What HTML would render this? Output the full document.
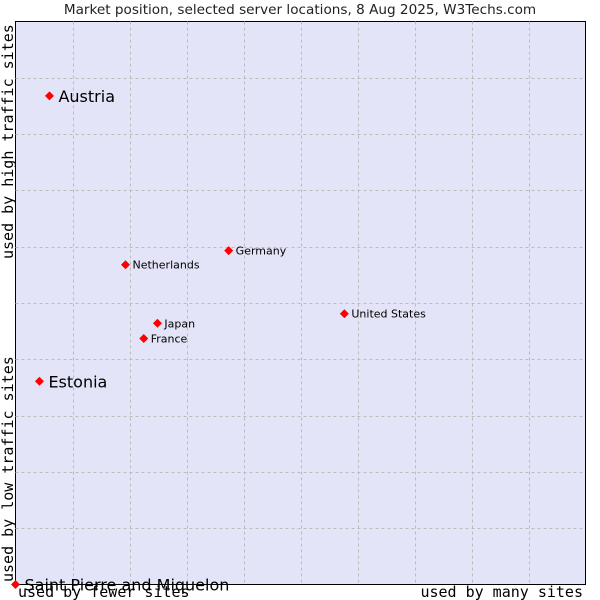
<!DOCTYPE html>
<html><head><meta charset="utf-8"><style>
body{margin:0;background:#fff;}
svg{display:block;font-family:"DejaVu Sans","Liberation Sans",sans-serif;}
</style></head><body>
<svg id="chart" width="600" height="600">
<text x="300" y="14" text-anchor="middle" font-size="13.6" fill="#222">Market position, selected server locations, 8 Aug 2025, W3Techs.com</text>
<rect x="15.5" y="21.5" width="570" height="563" fill="#e4e4f8" stroke="#000" stroke-width="1"/>
<g id="grid"></g>
<g id="points"></g>
<text transform="translate(13,259) rotate(-90)" font-family="DejaVu Sans Mono,monospace" font-size="15" fill="#000">used by high traffic sites</text>
<text transform="translate(13,582) rotate(-90)" font-family="DejaVu Sans Mono,monospace" font-size="15" fill="#000">used by low traffic sites</text>
<text x="18" y="597" font-family="DejaVu Sans Mono,monospace" font-size="15" fill="#000">used by fewer sites</text>
<text x="583" y="597" text-anchor="end" font-family="DejaVu Sans Mono,monospace" font-size="15" fill="#000">used by many sites</text>
</svg>
<script>
const names=["Austria","Estonia","Saint Pierre and Miquelon","Netherlands","Germany","United States","Japan","France"];
const xVals=[5.96,4.2,0,19.3,37.4,57.7,24.9,22.5];
const yVals=[86.8,36.1,0,56.8,59.3,48.1,46.4,43.7];
const bigLabel=[true,true,true,false,false,false,false,false];
const NS="http://www.w3.org/2000/svg";
const L=15.5,T=21.5,W=570,H=563;
const sx=v=>L+v/100*W, sy=v=>T+H-v/100*H;
const grid=document.getElementById('grid');
for(let i=1;i<10;i++){
  const gx=document.createElementNS(NS,'line');
  const xp=Math.round(L+i*W/10)+0.5;
  gx.setAttribute('x1',xp);gx.setAttribute('x2',xp);gx.setAttribute('y1',T);gx.setAttribute('y2',T+H);
  gx.setAttribute('stroke','#bbb');gx.setAttribute('stroke-dasharray','3,3');
  
  
  grid.appendChild(gx);
  const gy=document.createElementNS(NS,'line');
  const yp=Math.round(T+i*H/10)+0.5;
  gy.setAttribute('x1',L);gy.setAttribute('x2',L+W);gy.setAttribute('y1',yp);gy.setAttribute('y2',yp);
  gy.setAttribute('stroke','#bbb');gy.setAttribute('stroke-dasharray','3,3');
  
  
  grid.appendChild(gy);
}
const pts=document.getElementById('points');
names.forEach((n,i)=>{
  const x=sx(xVals[i]),y=sy(yVals[i]);
  const d=document.createElementNS(NS,'path');
  d.setAttribute('d',`M${x-4.5},${y} L${x},${y-4.5} L${x+4.5},${y} L${x},${y+4.5}Z`);
  d.setAttribute('fill','#f00');
  
  
  pts.appendChild(d);
  const t=document.createElementNS(NS,'text');
  const big=bigLabel[i];
  t.setAttribute('x',x+(big?9:7));
  t.setAttribute('y',y+(big?6:4));
  t.setAttribute('font-size',big?16:11);
  t.setAttribute('fill','#000');
  t.textContent=n;
  
  
  pts.appendChild(t);
});
</script>
</body></html>
